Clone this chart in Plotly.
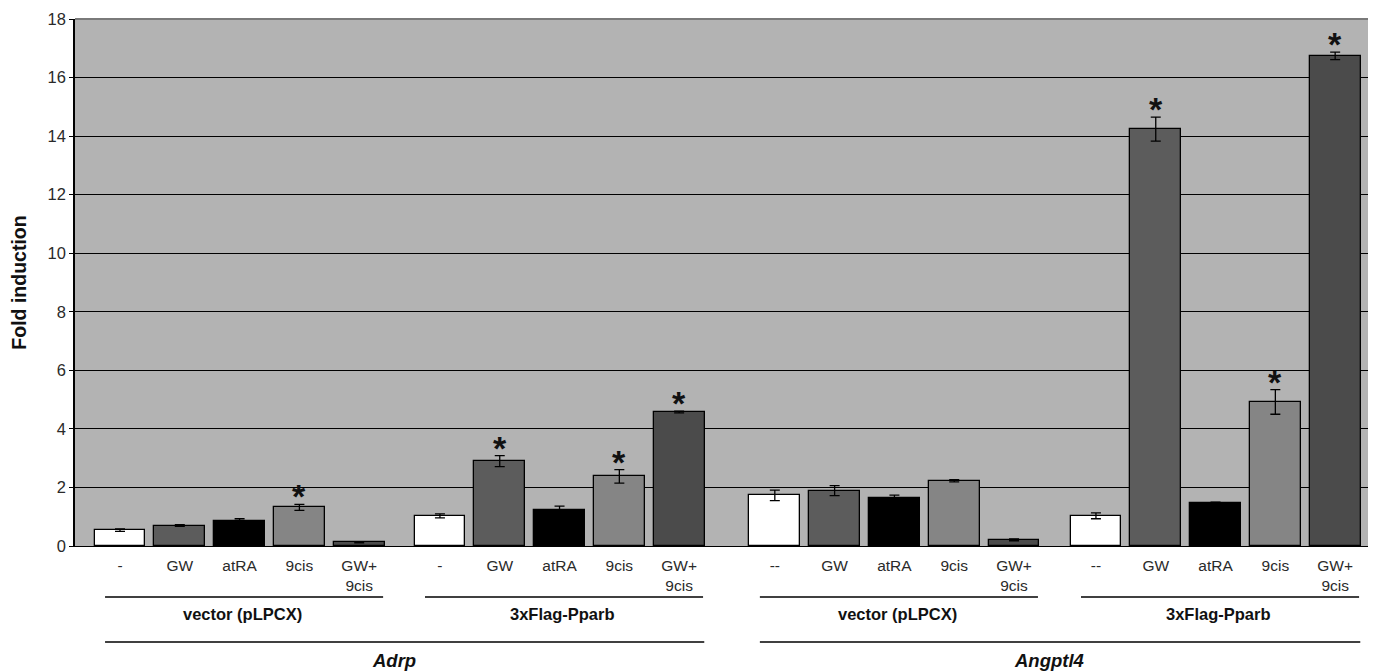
import plotly.graph_objects as go

# ---------------- data ----------------
treatments_vec = ["-", "GW", "atRA", "9cis", "GW+<br>9cis"]
treatments_vec2 = ["--", "GW", "atRA", "9cis", "GW+<br>9cis"]
group_names = ["vector (pLPCX)", "3xFlag-Pparb", "vector (pLPCX)", "3xFlag-Pparb"]
genes = ["Adrp", "Angptl4"]

adrp_vector = [0.54, 0.70, 0.84, 1.32, 0.12]
adrp_vector_err = [0.04, 0.03, 0.09, 0.10, 0.01]
adrp_pparb = [1.03, 2.90, 1.22, 2.38, 4.58]
adrp_pparb_err = [0.07, 0.19, 0.14, 0.23, 0.03]
angptl4_vector = [1.73, 1.89, 1.65, 2.23, 0.21]
angptl4_vector_err = [0.18, 0.17, 0.09, 0.04, 0.03]
angptl4_pparb = [1.03, 14.24, 1.47, 4.92, 16.74]
angptl4_pparb_err = [0.10, 0.41, 0.03, 0.42, 0.13]

# significance flags (asterisks)
adrp_vector_sig = [0, 0, 0, 1, 0]
adrp_pparb_sig = [0, 1, 0, 1, 1]
angptl4_vector_sig = [0, 0, 0, 0, 0]
angptl4_pparb_sig = [0, 1, 0, 1, 1]

y_ticks = [0, 2, 4, 6, 8, 10, 12, 14, 16, 18]

# ---------------- styling / layout ----------------
bar_colors = ["#ffffff", "#5c5c5c", "#000000", "#858585", "#4b4b4b"]
group_starts = [0.0, 5.35, 10.95, 16.32]
FONT = "Arial, Liberation Sans, Helvetica, sans-serif"

# the page body has an 8px default margin; size the figure to fill the rest
BODY = 8
W, H = 1376 - BODY, 671 - BODY
M_L, M_R, M_T, M_B = 75 - BODY, 0, 19 - BODY, 125
PLOT_H = H - M_T - M_B


def py(dy):
    """pixel offset below the x axis -> paper coordinate"""
    return -dy / PLOT_H


values = [adrp_vector, adrp_pparb, angptl4_vector, angptl4_pparb]
errors = [adrp_vector_err, adrp_pparb_err, angptl4_vector_err, angptl4_pparb_err]
sigs = [adrp_vector_sig, adrp_pparb_sig, angptl4_vector_sig, angptl4_pparb_sig]
labels = [treatments_vec, treatments_vec, treatments_vec2, treatments_vec2]

xs, ys, es, cols, tvals, ttext = [], [], [], [], [], []
for g in range(4):
    for i in range(5):
        x = group_starts[g] + i
        xs.append(x)
        ys.append(values[g][i])
        es.append(errors[g][i])
        cols.append(bar_colors[i])
        tvals.append(x)
        ttext.append(labels[g][i])

fig = go.Figure()
fig.add_trace(go.Bar(
    x=xs, y=ys, width=0.85,
    marker=dict(color=cols, line=dict(color="#000000", width=1.3)),
    error_y=dict(type="data", array=es, visible=True, color="#000000",
                 thickness=1.3, width=5),
    showlegend=False, hoverinfo="x+y",
))

annotations = []
# asterisks
for g in range(4):
    for i in range(5):
        if sigs[g][i]:
            annotations.append(dict(
                x=group_starts[g] + i, y=values[g][i] + errors[g][i],
                xref="x", yref="y", text="<b>*</b>", showarrow=False,
                yanchor="middle", yshift=8,
                font=dict(family=FONT, size=34, color="#111111")))

shapes = []
# group labels and lines
for g in range(4):
    s = group_starts[g]
    shapes.append(dict(type="line", xref="x", yref="paper",
                       x0=s - 0.25, x1=s + 4.4, y0=py(51), y1=py(51),
                       line=dict(color="#000000", width=1.3)))
    annotations.append(dict(x=s + 2.05, y=py(67.5), xref="x", yref="paper",
                            text="<b>%s</b>" % group_names[g], showarrow=False,
                            yanchor="middle",
                            font=dict(family=FONT, size=16.5, color="#111111")))
# gene lines & labels
for k in range(2):
    s1 = group_starts[2 * k]
    s2 = group_starts[2 * k + 1]
    shapes.append(dict(type="line", xref="x", yref="paper",
                       x0=s1 - 0.25, x1=s2 + 4.42, y0=py(96), y1=py(96),
                       line=dict(color="#000000", width=1.3)))
    annotations.append(dict(x=(s1 + 4 + s2) / 2 - 0.1, y=py(114.5), xref="x",
                            yref="paper", text="<b><i>%s</i></b>" % genes[k],
                            showarrow=False, yanchor="middle",
                            font=dict(family=FONT, size=18.5, color="#111111")))
# top border
shapes.append(dict(type="line", xref="paper", yref="paper", x0=0, x1=1,
                   y0=1, y1=1, line=dict(color="#7a7a7a", width=2)))

fig.update_layout(
    width=W, height=H,
    margin=dict(l=M_L, r=M_R, t=M_T, b=M_B, pad=0),
    paper_bgcolor="#ffffff", plot_bgcolor="#b3b3b3",
    font=dict(family=FONT, size=15, color="#333333"),
    bargap=0,
    annotations=annotations, shapes=shapes,
    xaxis=dict(range=[-0.7525, 21.003], tickmode="array", tickvals=tvals,
               ticktext=ttext, showgrid=False, zeroline=False,
               showline=True, linecolor="#000000", linewidth=1.3,
               ticks="outside", ticklen=5, tickcolor="rgba(0,0,0,0)",
               tickfont=dict(family=FONT, size=15.5, color="#2a2a2a"),
               fixedrange=True),
    yaxis=dict(range=[0, 18], tickvals=y_ticks, showgrid=True,
               gridcolor="#000000", gridwidth=1.2, zeroline=False,
               showline=True, linecolor="#000000", linewidth=1.5,
               ticks="outside", ticklen=4, tickcolor="#000000",
               tickfont=dict(family=FONT, size=16.5, color="#2a2a2a"),
               title=dict(text="<b>Fold induction</b>", standoff=19,
                          font=dict(family=FONT, size=19.5, color="#111111")),
               fixedrange=True),
)

fig.write_html("out.html")
